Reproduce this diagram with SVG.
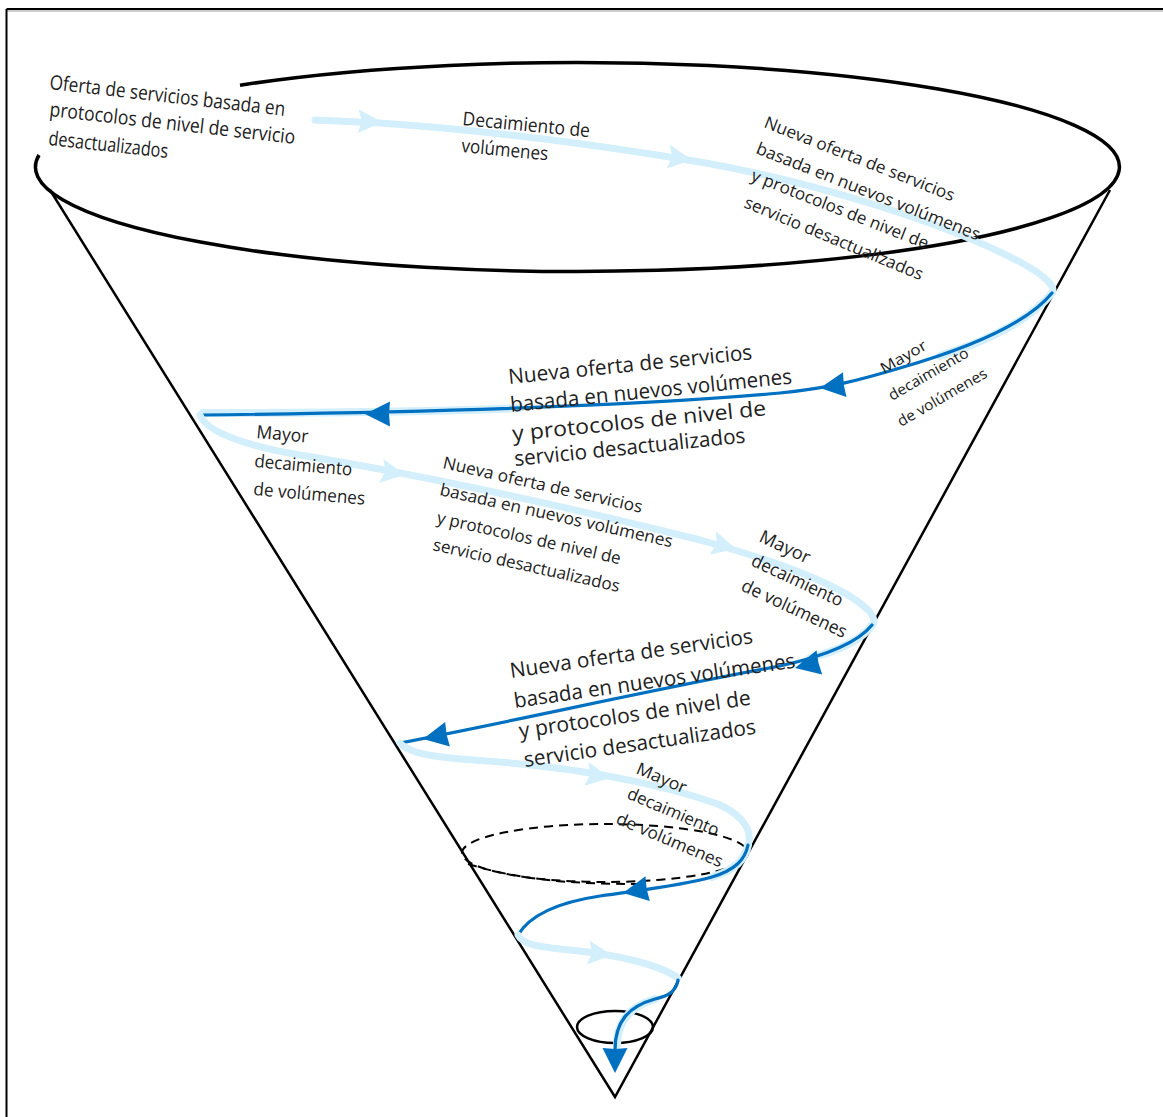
<svg xmlns="http://www.w3.org/2000/svg" xmlns:xlink="http://www.w3.org/1999/xlink" width="1163" height="1117" viewBox="0 0 1163 1117">
<defs>
<style>
.frame{stroke:#000;stroke-width:2;fill:none}
.frame2{stroke:#999;stroke-width:1;fill:none}
.rim{stroke:#000;stroke-width:3.5;fill:none}
.cone{stroke:#000;stroke-width:2.5;fill:none}
.dash{stroke:#000;stroke-width:2;fill:none;stroke-dasharray:9 6}
.light{stroke:#d3effc;stroke-width:7;fill:none;stroke-linecap:round}
.halo{stroke:#d3effc;stroke-width:8;fill:none;stroke-linecap:round}
.dark{stroke:#0070c0;stroke-width:3.2;fill:none;stroke-linecap:round}
.t{font-family:"Open Sans","Noto Sans",sans-serif;fill:#222}
</style>
<polygon id="al" points="0,0 -24,-12 -20,0 -24,12" fill="#d3effc"/>
<polygon id="ad" points="0,0 -25,-12.5 -24,0 -25,12.5" fill="#0070c0"/>
</defs>
<rect width="1163" height="1117" fill="#fff"/>
<path class="frame2" d="M7,11 H1163"/>
<path class="frame" d="M6.5,9 H1163 M6.5,9 V1117"/>

<g id="funnel">
<path class="rim" d="M39,155 A542 104.5 0 1 0 240,85.2"/>
<path class="cone" d="M50,190 L615,1097 L1110,190"/>
<ellipse class="dash" cx="605" cy="853" rx="143" ry="29"/>
<path class="dash" d="M468,864 C520,880 570,884 640,884"/>
<ellipse cx="615" cy="1027" rx="38" ry="16" fill="none" stroke="#000" stroke-width="2.5"/>
</g>

<g id="connectors">
<path class="light" d="M315,120 L380,123 C480,130 600,145 700,162 C820,183 950,225 1020,262 C1048,277 1056,288 1052,293"/>
<path class="halo" d="M1052,293 C1030,320 990,340 940,356"/>
<path class="halo" d="M520,408 C450,411 330,413 203,413"/>
<path class="dark" d="M1052,293 C1030,320 980,345 900,368 C860,380 830,388 780,393 C650,405 450,412 200,415"/>
<path class="light" d="M200,415 C205,430 240,445 300,455 C420,475 560,505 700,540 C790,565 850,590 870,612 C876,620 874,625 872,625"/>
<path class="halo" d="M872,625 C862,640 840,650 810,658"/>
<path class="dark" d="M872,625 C860,640 830,655 780,666 C650,690 520,720 400,743"/>
<path class="light" d="M400,743 C410,755 440,758 500,762 C600,770 680,790 720,805 C748,818 752,835 748,845"/>
<path class="halo" d="M748,845 C745,860 735,870 712,877"/>
<path class="dark" d="M748,845 C745,860 735,870 712,877 C680,886 640,890 600,896 C560,902 530,915 518,935"/>
<path class="light" d="M518,935 C522,945 540,947 570,950 C620,955 660,965 678,978"/>
<path class="halo" d="M655,999 C632,1006 617,1020 617,1045"/>
<path class="dark" d="M678,980 C676,992 668,996 655,999 C630,1006 615,1020 615,1050"/>
<use xlink:href="#al" transform="translate(382,122) rotate(2)"/>
<use xlink:href="#al" transform="translate(692,160) rotate(8)"/>
<use xlink:href="#al" transform="translate(405,475) rotate(10)"/>
<use xlink:href="#al" transform="translate(736,549) rotate(15)"/>
<use xlink:href="#al" transform="translate(610,778) rotate(10)"/>
<use xlink:href="#al" transform="translate(612,955) rotate(6)"/>
<use xlink:href="#ad" transform="translate(820,388) rotate(172)"/>
<use xlink:href="#ad" transform="translate(365,414) rotate(180)"/>
<use xlink:href="#ad" transform="translate(795,668) rotate(167)"/>
<use xlink:href="#ad" transform="translate(423,739) rotate(169)"/>
<use xlink:href="#ad" transform="translate(623,893) rotate(170)"/>
<use xlink:href="#ad" transform="translate(615,1073) rotate(90)"/>
</g>

<g id="t1" class="t" font-size="20">
<text transform="translate(49,89) rotate(6.5)" textLength="237" lengthAdjust="spacingAndGlyphs">Oferta de servicios basada en</text>
<text transform="translate(49,116) rotate(6.5)" textLength="247" lengthAdjust="spacingAndGlyphs">protocolos de nivel de servicio</text>
<text transform="translate(48,145) rotate(6.2)" textLength="120" lengthAdjust="spacingAndGlyphs">desactualizados</text>
</g>
<g id="t2" class="t" font-size="19">
<text transform="translate(462,125) rotate(5.5)" textLength="128" lengthAdjust="spacingAndGlyphs">Decaimiento de</text>
<text transform="translate(461,152) rotate(5.5)" textLength="87" lengthAdjust="spacingAndGlyphs">volúmenes</text>
</g>
<g id="t3" class="t" font-size="17">
<text transform="translate(763,127) rotate(21.5)" textLength="203" lengthAdjust="spacingAndGlyphs">Nueva oferta de servicios</text>
<text transform="translate(755,153) rotate(21.5)" textLength="239" lengthAdjust="spacingAndGlyphs">basada en nuevos volúmenes</text>
<text transform="translate(750,180) rotate(21.5)" textLength="189" lengthAdjust="spacingAndGlyphs">y protocolos de nivel de</text>
<text transform="translate(743,207) rotate(22.5)" textLength="192" lengthAdjust="spacingAndGlyphs">servicio desactualizados</text>
</g>
<g id="t4" class="t" font-size="15">
<text transform="translate(884,374) rotate(-30)" textLength="51" lengthAdjust="spacingAndGlyphs">Mayor</text>
<text transform="translate(892,401) rotate(-30)" textLength="90" lengthAdjust="spacingAndGlyphs">decaimiento</text>
<text transform="translate(901,427) rotate(-30)" textLength="101" lengthAdjust="spacingAndGlyphs">de volúmenes</text>
</g>
<g id="t5" class="t" font-size="21">
<text transform="translate(509,384) rotate(-5.8)" textLength="245" lengthAdjust="spacingAndGlyphs">Nueva oferta de servicios</text>
<text transform="translate(511,412) rotate(-5.8)" textLength="283" lengthAdjust="spacingAndGlyphs">basada en nuevos volúmenes</text>
<text transform="translate(513,441) rotate(-5.8)" textLength="255" lengthAdjust="spacingAndGlyphs">y protocolos de nivel de</text>
<text transform="translate(515,466) rotate(-5.8)" textLength="232" lengthAdjust="spacingAndGlyphs">servicio desactualizados</text>
</g>
<g id="t6" class="t" font-size="18">
<text transform="translate(256,438) rotate(5)" textLength="52" lengthAdjust="spacingAndGlyphs">Mayor</text>
<text transform="translate(254,467) rotate(5)" textLength="98" lengthAdjust="spacingAndGlyphs">decaimiento</text>
<text transform="translate(253,495) rotate(5)" textLength="112" lengthAdjust="spacingAndGlyphs">de volúmenes</text>
</g>
<g id="t7" class="t" font-size="17">
<text transform="translate(442,468) rotate(12.7)" textLength="204" lengthAdjust="spacingAndGlyphs">Nueva oferta de servicios</text>
<text transform="translate(439,495) rotate(12.7)" textLength="238" lengthAdjust="spacingAndGlyphs">basada en nuevos volúmenes</text>
<text transform="translate(436,523) rotate(12.7)" textLength="188" lengthAdjust="spacingAndGlyphs">y protocolos de nivel de</text>
<text transform="translate(432,550) rotate(12.7)" textLength="191" lengthAdjust="spacingAndGlyphs">servicio desactualizados</text>
</g>
<g id="t8" class="t" font-size="18">
<text transform="translate(758,541) rotate(25)" textLength="54" lengthAdjust="spacingAndGlyphs">Mayor</text>
<text transform="translate(750,565) rotate(25)" textLength="99" lengthAdjust="spacingAndGlyphs">decaimiento</text>
<text transform="translate(740,590) rotate(25)" textLength="114" lengthAdjust="spacingAndGlyphs">de volúmenes</text>
</g>
<g id="t9" class="t" font-size="21">
<text transform="translate(511,678) rotate(-8.2)" textLength="245" lengthAdjust="spacingAndGlyphs">Nueva oferta de servicios</text>
<text transform="translate(515,708) rotate(-8.2)" textLength="284" lengthAdjust="spacingAndGlyphs">basada en nuevos volúmenes</text>
<text transform="translate(520,738) rotate(-8.2)" textLength="234" lengthAdjust="spacingAndGlyphs">y protocolos de nivel de</text>
<text transform="translate(525,767) rotate(-8.2)" textLength="234" lengthAdjust="spacingAndGlyphs">servicio desactualizados</text>
</g>
<g id="t10" class="t" font-size="17">
<text transform="translate(635,773) rotate(23)" textLength="53" lengthAdjust="spacingAndGlyphs">Mayor</text>
<text transform="translate(626,798) rotate(23)" textLength="98" lengthAdjust="spacingAndGlyphs">decaimiento</text>
<text transform="translate(615,823) rotate(23)" textLength="114" lengthAdjust="spacingAndGlyphs">de volúmenes</text>
</g>
</svg>
